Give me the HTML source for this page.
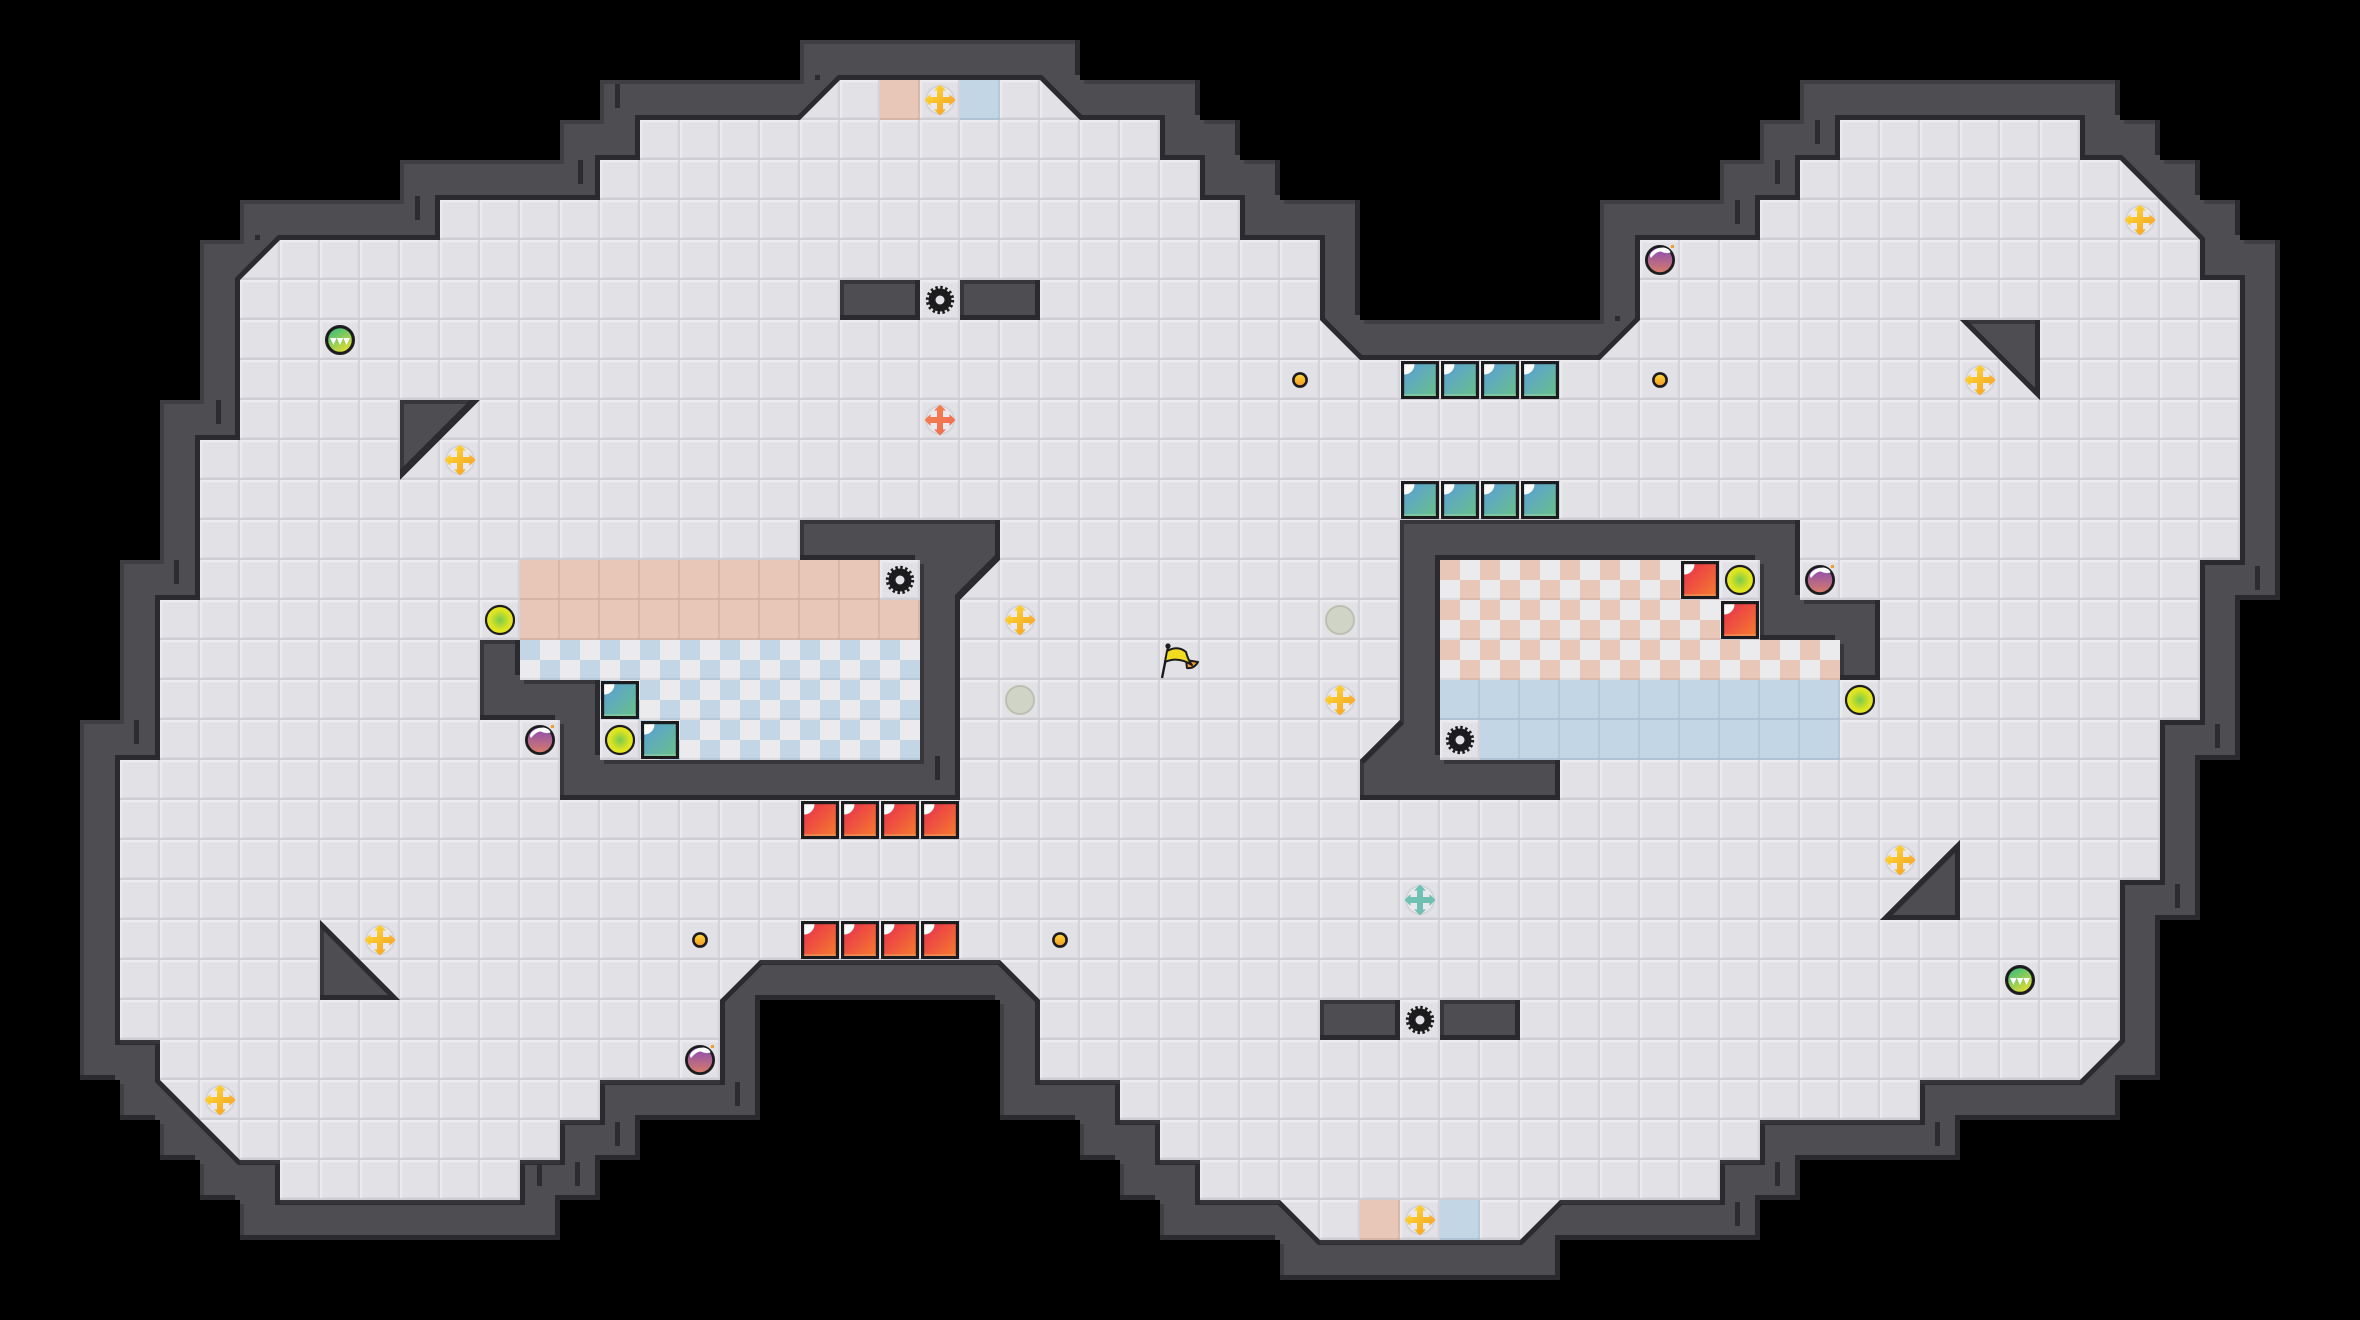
<!DOCTYPE html>
<html><head><meta charset="utf-8"><style>html,body{margin:0;padding:0;background:#000;width:2360px;height:1320px;overflow:hidden}svg{display:block}</style></head><body>
<svg xmlns="http://www.w3.org/2000/svg" width="2360" height="1320" viewBox="0 0 2360 1320">
<defs>
<polygon id="O" points="800,40 1080,40 1080,80 1200,80 1200,120 1240,120 1240,160 1280,160 1280,200 1360,200 1360,320 1600,320 1600,200 1720,200 1720,160 1760,160 1760,120 1800,120 1800,80 2120,80 2120,120 2160,120 2160,160 2200,160 2200,200 2240,200 2240,240 2280,240 2280,600 2240,600 2240,760 2200,760 2200,920 2160,920 2160,1080 2120,1080 2120,1120 1960,1120 1960,1160 1800,1160 1800,1200 1760,1200 1760,1240 1560,1240 1560,1280 1280,1280 1280,1240 1160,1240 1160,1200 1120,1200 1120,1160 1080,1160 1080,1120 1000,1120 1000,1000 760,1000 760,1120 640,1120 640,1160 600,1160 600,1200 560,1200 560,1240 240,1240 240,1200 200,1200 200,1160 160,1160 160,1120 120,1120 120,1080 80,1080 80,720 120,720 120,560 160,560 160,400 200,400 200,240 240,240 240,200 400,200 400,160 560,160 560,120 600,120 600,80 800,80"/>
<polygon id="F" points="840,80 1040,80 1080,120 1160,120 1160,160 1200,160 1200,200 1240,200 1240,240 1320,240 1320,320 1360,360 1600,360 1640,320 1640,240 1760,240 1760,200 1800,200 1800,160 1840,160 1840,120 2080,120 2080,160 2120,160 2200,240 2200,280 2240,280 2240,560 2200,560 2200,720 2160,720 2160,880 2120,880 2120,1040 2080,1080 1920,1080 1920,1120 1760,1120 1760,1160 1720,1160 1720,1200 1560,1200 1520,1240 1320,1240 1280,1200 1200,1200 1200,1160 1160,1160 1160,1120 1120,1120 1120,1080 1040,1080 1040,1000 1000,960 760,960 720,1000 720,1080 600,1080 600,1120 560,1120 560,1160 520,1160 520,1200 280,1200 280,1160 240,1160 160,1080 160,1040 120,1040 120,760 160,760 160,600 200,600 200,440 240,440 240,280 280,240 440,240 440,200 600,200 600,160 640,160 640,120 800,120"/>
<path id="I" d="M800 520H1000V560L960 600V800H560V720H480V640H520V680H600V760H920V560H800Z M1400 520H1800V600H1880V680H1840V640H1760V560H1440V760H1560V800H1360V760L1400 720Z M840 280H920V320H840Z M960 280H1040V320H960Z M1320 1000H1400V1040H1320Z M1440 1000H1520V1040H1440Z M400 400H480L400 480Z M1960 320H2040V400Z M1960 840V920H1880Z M320 920V1000H400Z"/>
<clipPath id="cO"><use href="#O"/></clipPath>
<clipPath id="cO2"><use href="#O" transform="translate(4,4)"/></clipPath>
<clipPath id="cI"><use href="#I"/></clipPath>
<clipPath id="cI2"><use href="#I" transform="translate(4,4)"/></clipPath>
<pattern id="pF" width="40" height="40" patternUnits="userSpaceOnUse"><rect width="40" height="40" fill="#e1e1e6"/><rect y="2" width="40" height="1" fill="#e6e6ea"/><rect x="2" width="1" height="40" fill="#e5e5e9"/><rect x="37" width="1" height="40" fill="#dcdce1"/><rect y="37" width="40" height="1" fill="#d9d9de"/><rect width="40" height="2" fill="#ececf0"/><rect width="2" height="40" fill="#ebebef"/><rect x="38" width="2" height="40" fill="#d3d3d9"/><rect y="38" width="40" height="2" fill="#cdcdd3"/></pattern>
<pattern id="pP" width="40" height="40" patternUnits="userSpaceOnUse"><rect width="40" height="40" fill="#e8c6b8"/><rect x="38" width="2" height="40" fill="#d8b8aa"/><rect y="38" width="40" height="2" fill="#d5b3a5"/></pattern>
<pattern id="pB" width="40" height="40" patternUnits="userSpaceOnUse"><rect width="40" height="40" fill="#c2d6e6"/><rect x="38" width="2" height="40" fill="#b3c8da"/><rect y="38" width="40" height="2" fill="#aec3d5"/></pattern>
<pattern id="pCB" width="40" height="40" patternUnits="userSpaceOnUse"><rect width="40" height="40" fill="#ebebee"/><rect width="20" height="20" fill="#c2d6e6"/><rect x="20" y="20" width="20" height="20" fill="#c2d6e6"/><rect y="38" width="40" height="2" fill="#000" opacity=".06"/></pattern>
<pattern id="pCP" width="40" height="40" patternUnits="userSpaceOnUse"><rect width="40" height="40" fill="#ebebee"/><rect width="20" height="20" fill="#e8c6b8"/><rect x="20" y="20" width="20" height="20" fill="#e8c6b8"/><rect y="38" width="40" height="2" fill="#000" opacity=".06"/></pattern>
<linearGradient id="gT" x1="0" y1="0" x2="1" y2="1"><stop offset="0" stop-color="#5a9fd8"/><stop offset="1" stop-color="#68c08a"/></linearGradient>
<linearGradient id="gR" x1="0" y1="0" x2="1" y2="1"><stop offset="0" stop-color="#e82e4c"/><stop offset="1" stop-color="#f67c30"/></linearGradient>
<linearGradient id="gY" x1="0" y1="0" x2="1" y2="1"><stop offset="0" stop-color="#ffe23a"/><stop offset="1" stop-color="#f5981f"/></linearGradient>
<linearGradient id="gO" x1="0" y1="0" x2="1" y2="1"><stop offset="0" stop-color="#f5854f"/><stop offset="1" stop-color="#ee6a50"/></linearGradient>
<linearGradient id="gG" x1="0" y1="0" x2="1" y2="1"><stop offset="0" stop-color="#6cc4b8"/><stop offset="1" stop-color="#74bcae"/></linearGradient>
<linearGradient id="gC" x1="0" y1="0" x2="0" y2="1"><stop offset="0" stop-color="#ffd93a"/><stop offset="1" stop-color="#f29a20"/></linearGradient>
<linearGradient id="gD" x1=".2" y1="0" x2=".8" y2="1"><stop offset="0" stop-color="#2fbb80"/><stop offset="1" stop-color="#f4e02c"/></linearGradient>
<linearGradient id="gM" x1="0" y1="0" x2="0" y2="1"><stop offset="0" stop-color="#8348b8"/><stop offset="1" stop-color="#da7e66"/></linearGradient>
<radialGradient id="gL"><stop offset="0" stop-color="#78ca4e"/><stop offset=".7" stop-color="#dce422"/><stop offset="1" stop-color="#e8e818"/></radialGradient>
<g id="bT"><rect x="1" y="1" width="38" height="38" fill="#1c1c1e"/><rect x="4.2" y="4.2" width="31.6" height="31.6" fill="url(#gT)"/><rect x="4.2" y="34.5" width="31.6" height="1.3" fill="#8fd8a8"/><path d="M4.2 4.2H14.5A10.3 10.3 0 0 1 4.2 14.5Z" fill="#fff"/></g>
<g id="bR"><rect x="1" y="1" width="38" height="38" fill="#1c1c1e"/><rect x="4.2" y="4.2" width="31.6" height="31.6" fill="url(#gR)"/><rect x="4.2" y="34.5" width="31.6" height="1.3" fill="#fb9a5c"/><path d="M4.2 4.2H14.5A10.3 10.3 0 0 1 4.2 14.5Z" fill="#fff"/></g>
<g id="gear"><circle r="8" fill="none" stroke="#1c1c1e" stroke-width="7"/><circle r="12.4" fill="none" stroke="#1c1c1e" stroke-width="3.6" stroke-dasharray="2.43 2.43"/></g>
<circle id="yel" r="14" fill="url(#gL)" stroke="#1c1c1e" stroke-width="2.2"/>
<circle id="gho" r="14" fill="#d0d4c6" stroke="#bcc0b2" stroke-width="2"/>
<g id="bomb"><circle r="13.6" fill="url(#gM)" stroke="#1c1c1e" stroke-width="2.8"/><path d="M-9 -7Q-5 -12.5 4 -12.5Q10 -11 10.5 -7.5Q5 -6 1 -8.5Q-4 -8.5 -9 -2Q-11 -4 -9 -7Z" fill="#fff"/><rect x="11" y="-15" width="3" height="3" fill="#f59a30"/></g>
<g id="dash"><circle r="13.4" fill="url(#gD)" stroke="#1c1c1e" stroke-width="3.2"/><path d="M-10 -2H-3.5L-6.5 5Z M-3.2 -2H3.2L0 5Z M3.5 -2H10L6.5 5Z" fill="#fff"/></g>
<g id="coin"><circle r="6.6" fill="url(#gC)" stroke="#1c1c1e" stroke-width="2.6"/></g>
<circle id="hal" r="14" fill="#e9e9ed" stroke="#d2d2d9" stroke-width="1.8"/>
<path id="plus" d="M-3 -9.5H-6L0 -15.5L6 -9.5H3V-3H9.5V-6L15.5 0L9.5 6V3H3V9.5H6L0 15.5L-6 9.5H-3V3H-9.5V6L-15.5 0L-9.5 -6V-3H-3Z"/>
<g id="py"><use href="#hal"/><use href="#plus" fill="url(#gY)"/></g>
<g id="po"><use href="#hal"/><use href="#plus" fill="url(#gO)"/></g>
<g id="pg"><use href="#hal"/><use href="#plus" fill="url(#gG)"/></g>
</defs>

<rect width="2360" height="1320" fill="#000"/>

<!-- outer wall -->
<g clip-path="url(#cO)">
<use href="#O" fill="#2b2b2f"/>
<use href="#O" transform="translate(-5,-5)" fill="#3e3e43"/>
<g clip-path="url(#cO2)"><use href="#O" transform="translate(-5,-5)" fill="#4d4d52"/></g>
</g>
<!-- seams -->
<g fill="#2d2d31">
<rect x="174" y="560" width="5" height="24"/><rect x="134" y="720" width="5" height="24"/><rect x="216" y="400" width="5" height="24"/>
<rect x="415" y="196" width="5" height="24"/><rect x="578" y="160" width="5" height="24"/><rect x="615" y="84" width="5" height="24"/>
<rect x="1815" y="120" width="5" height="24"/><rect x="1775" y="160" width="5" height="24"/><rect x="1735" y="200" width="5" height="24"/>
<rect x="2255" y="566" width="5" height="24"/><rect x="2215" y="724" width="5" height="24"/><rect x="2175" y="884" width="5" height="24"/>
<rect x="1935" y="1122" width="5" height="24"/><rect x="1775" y="1162" width="5" height="24"/><rect x="1735" y="1202" width="5" height="24"/>
<rect x="537" y="1162" width="5" height="24"/><rect x="575" y="1162" width="5" height="24"/><rect x="615" y="1122" width="5" height="24"/><rect x="735" y="1082" width="5" height="24"/>
<rect x="255" y="235" width="5" height="5"/><rect x="815" y="75" width="5" height="5"/><rect x="1615" y="316" width="5" height="5"/>
</g>
<!-- floor -->
<use href="#F" fill="#2b2b2f" stroke="#2b2b2f" stroke-width="10" stroke-linejoin="miter"/>
<path d="M120 1042H160M1920 1082H2080M1760 1122H1920M1720 1162H1760M1560 1202H1720M1320 1242H1520M1200 1202H1280M1160 1162H1200M1120 1122H1160M1040 1082H1120M760 962H1000M600 1082H720M560 1122H600M520 1162H560M280 1202H520M240 1162H280" stroke="#36363a" stroke-width="4" fill="none"/>
<use href="#F" fill="url(#pF)"/>

<!-- coloured tiles -->
<rect x="880" y="80" width="40" height="40" fill="url(#pP)"/><rect x="960" y="80" width="40" height="40" fill="url(#pB)"/>
<rect x="1360" y="1200" width="40" height="40" fill="url(#pP)"/><rect x="1440" y="1200" width="40" height="40" fill="url(#pB)"/>
<path d="M520 560H880V600H920V640H520Z" fill="url(#pP)"/>
<path d="M520 640H920V760H600V680H520Z" fill="url(#pCB)"/>
<path d="M1440 560H1680V600H1720V640H1840V680H1440Z" fill="url(#pCP)"/>
<path d="M1440 680H1840V760H1480V720H1440Z" fill="url(#pB)"/>
<rect x="600" y="720" width="40" height="40" fill="url(#pF)"/>

<!-- islands -->
<g clip-path="url(#cI)">
<use href="#I" fill="#2b2b2f"/>
<use href="#I" transform="translate(-5,-5)" fill="#37373b"/>
<g clip-path="url(#cI2)"><use href="#I" transform="translate(-5,-5)" fill="#4d4d52"/></g>
<path d="M1960 320L2040 400 M1960 840L1880 920 M320 920L400 1000 M1400 720L1360 760" stroke="#2b2b2f" stroke-width="10" fill="none"/>
</g>
<rect x="935" y="756" width="5" height="24" fill="#2b2b2f"/>

<!-- blocks -->
<use href="#bT" x="1400" y="360"/><use href="#bT" x="1440" y="360"/><use href="#bT" x="1480" y="360"/><use href="#bT" x="1520" y="360"/>
<use href="#bT" x="1400" y="480"/><use href="#bT" x="1440" y="480"/><use href="#bT" x="1480" y="480"/><use href="#bT" x="1520" y="480"/>
<use href="#bT" x="600" y="680"/><use href="#bT" x="640" y="720"/>
<use href="#bR" x="800" y="800"/><use href="#bR" x="840" y="800"/><use href="#bR" x="880" y="800"/><use href="#bR" x="920" y="800"/>
<use href="#bR" x="800" y="920"/><use href="#bR" x="840" y="920"/><use href="#bR" x="880" y="920"/><use href="#bR" x="920" y="920"/>
<use href="#bR" x="1680" y="560"/><use href="#bR" x="1720" y="600"/>

<!-- gears -->
<use href="#gear" x="940" y="300"/><use href="#gear" x="900" y="580"/><use href="#gear" x="1460" y="740"/><use href="#gear" x="1420" y="1020"/>

<!-- circles -->
<use href="#yel" x="500" y="620"/><use href="#yel" x="620" y="740"/><use href="#yel" x="1740" y="580"/><use href="#yel" x="1860" y="700"/>
<use href="#gho" x="1020" y="700"/><use href="#gho" x="1340" y="620"/>
<use href="#bomb" x="540" y="740"/><use href="#bomb" x="1660" y="260"/><use href="#bomb" x="1820" y="580"/><use href="#bomb" x="700" y="1060"/>
<use href="#dash" x="340" y="340"/><use href="#dash" x="2020" y="980"/>
<use href="#coin" x="1300" y="380"/><use href="#coin" x="1660" y="380"/><use href="#coin" x="700" y="940"/><use href="#coin" x="1060" y="940"/>

<!-- plus -->
<use href="#py" x="940" y="100"/><use href="#py" x="1420" y="1220"/><use href="#py" x="2140" y="220"/><use href="#py" x="1980" y="380"/><use href="#py" x="460" y="460"/><use href="#py" x="1020" y="620"/><use href="#py" x="1340" y="700"/><use href="#py" x="1900" y="860"/><use href="#py" x="380" y="940"/><use href="#py" x="220" y="1100"/>
<use href="#po" x="940" y="420"/><use href="#pg" x="1420" y="900"/>

<!-- flag -->
<g stroke="#1c1c1e" stroke-linejoin="round">
<path d="M1168 648L1162 678" stroke-width="2.4" fill="none"/>
<path d="M1186 660L1198 662Q1194 669 1187 668Z" fill="#f5a030" stroke-width="2"/>
<path d="M1167 651Q1178 645 1186 652Q1188 660 1192 665Q1178 656 1165 662Z" fill="#f2da20" stroke-width="2"/>
<circle cx="1168" cy="646" r="2.6" fill="#1c1c1e" stroke="none"/>
</g>
</svg>
</body></html>
